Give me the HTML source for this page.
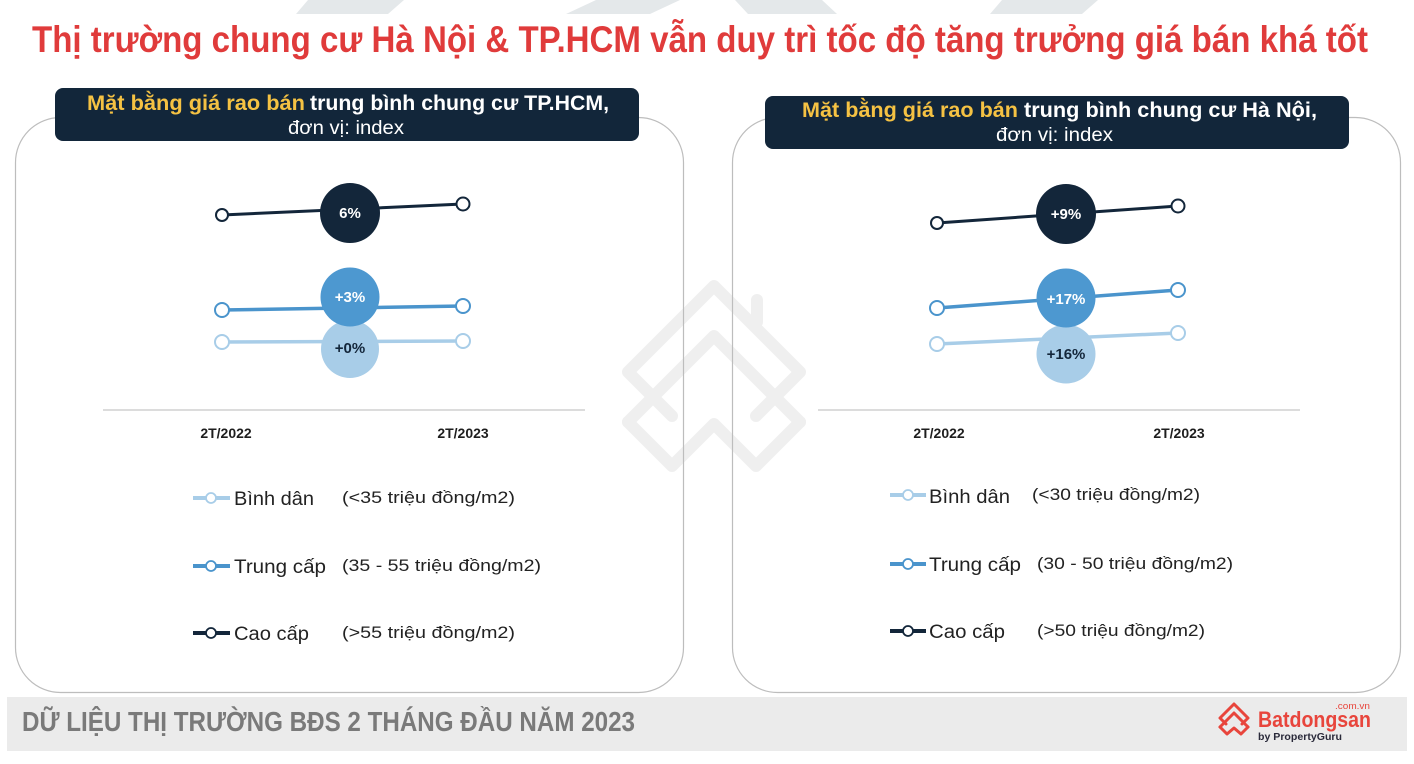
<!DOCTYPE html>
<html><head><meta charset="utf-8"><style>
html,body{margin:0;padding:0;background:#fff;}
svg{display:block;}
text{font-family:"Liberation Sans","DejaVu Sans",sans-serif;}
</style></head><body>
<svg width="1414" height="764" viewBox="0 0 1414 764" xmlns="http://www.w3.org/2000/svg">
<rect width="1414" height="764" fill="#fff"/>
<!-- top decorative stripes -->
<g fill="#e4e8ea">
<polygon points="296,14 388,14 404,0 308,0"/>
<polygon points="566,14 650,14 680,0 596,0"/>
<polygon points="748,14 837,14 822,0 735,0"/>
<polygon points="990,14 1082,14 1098,0 1002,0"/>
</g>
<!-- Title -->
<text x="32" y="52" font-size="37" font-weight="bold" fill="#e03b3b" textLength="1336" lengthAdjust="spacingAndGlyphs">Thị trường chung cư Hà Nội &amp; TP.HCM vẫn duy trì tốc độ tăng trưởng giá bán khá tốt</text>

<!-- watermark -->
<g fill="none" stroke="#efefef" stroke-width="12" stroke-linejoin="round" stroke-linecap="round">
<path d="M672,416 L628,372 L714,286 L800,372 L756,416"/>
<path d="M628,422 L714,336 L800,422"/>
<path d="M628,422 L672,466 L714,424 L756,466 L800,422"/>
<path d="M757,300 L757,322"/>
</g>

<!-- Panels -->
<rect x="15.5" y="117.5" width="668" height="575" rx="45" fill="none" stroke="#bdbdbd" stroke-width="1.2"/>
<rect x="732.5" y="117.5" width="668" height="575" rx="45" fill="none" stroke="#bdbdbd" stroke-width="1.2"/>

<!-- Left header -->
<rect x="55" y="88" width="584" height="53" rx="8" fill="#12263a"/>
<text x="87" y="110" font-size="21" font-weight="bold" fill="#f5c243" textLength="218" lengthAdjust="spacingAndGlyphs">Mặt bằng giá rao bán</text>
<text x="310" y="110" font-size="21" font-weight="bold" fill="#fff" textLength="299" lengthAdjust="spacingAndGlyphs">trung bình chung cư TP.HCM,</text>
<text x="288" y="134" font-size="19" fill="#fff" textLength="116" lengthAdjust="spacingAndGlyphs">đơn vị: index</text>

<!-- Right header -->
<rect x="765" y="96" width="584" height="53" rx="8" fill="#12263a"/>
<text x="802" y="117" font-size="21" font-weight="bold" fill="#f5c243" textLength="216" lengthAdjust="spacingAndGlyphs">Mặt bằng giá rao bán</text>
<text x="1024" y="117" font-size="21" font-weight="bold" fill="#fff" textLength="293" lengthAdjust="spacingAndGlyphs">trung bình chung cư Hà Nội,</text>
<text x="996" y="141" font-size="19" fill="#fff" textLength="117" lengthAdjust="spacingAndGlyphs">đơn vị: index</text>

<!-- Left chart -->
<line x1="103" y1="410" x2="585" y2="410" stroke="#dcdcdc" stroke-width="2"/>
<text x="226" y="438" font-size="14" font-weight="bold" fill="#1e1e1e" text-anchor="middle">2T/2022</text>
<text x="463" y="438" font-size="14" font-weight="bold" fill="#1e1e1e" text-anchor="middle">2T/2023</text>
<line x1="222" y1="215" x2="463" y2="204" stroke="#13263a" stroke-width="3"/>
<line x1="222" y1="310" x2="463" y2="306" stroke="#4a94cc" stroke-width="3.5"/>
<line x1="222" y1="342" x2="463" y2="341" stroke="#a8cde8" stroke-width="3.5"/>
<g fill="#fff" stroke-width="2">
<circle cx="222" cy="215" r="6" stroke="#13263a"/><circle cx="463" cy="204" r="6.5" stroke="#13263a"/>
<circle cx="222" cy="310" r="7" stroke="#4a94cc"/><circle cx="463" cy="306" r="7" stroke="#4a94cc"/>
<circle cx="222" cy="342" r="7" stroke="#a8cde8"/><circle cx="463" cy="341" r="7" stroke="#a8cde8"/>
</g>
<circle cx="350" cy="213" r="30" fill="#13263a"/>
<text x="350" y="218" font-size="15" font-weight="bold" fill="#fff" text-anchor="middle">6%</text>
<circle cx="350" cy="349" r="29" fill="#a8cde8"/>
<text x="350" y="353" font-size="15" font-weight="bold" fill="#13263a" text-anchor="middle">+0%</text>
<circle cx="350" cy="297" r="29.5" fill="#4d98d0"/>
<text x="350" y="302" font-size="15" font-weight="bold" fill="#fff" text-anchor="middle">+3%</text>

<!-- Right chart -->
<line x1="818" y1="410" x2="1300" y2="410" stroke="#dcdcdc" stroke-width="2"/>
<text x="939" y="438" font-size="14" font-weight="bold" fill="#1e1e1e" text-anchor="middle">2T/2022</text>
<text x="1179" y="438" font-size="14" font-weight="bold" fill="#1e1e1e" text-anchor="middle">2T/2023</text>
<line x1="937" y1="223" x2="1178" y2="206" stroke="#13263a" stroke-width="3"/>
<line x1="937" y1="308" x2="1178" y2="290" stroke="#4a94cc" stroke-width="3.5"/>
<line x1="937" y1="344" x2="1178" y2="333" stroke="#a8cde8" stroke-width="3.5"/>
<g fill="#fff" stroke-width="2">
<circle cx="937" cy="223" r="6" stroke="#13263a"/><circle cx="1178" cy="206" r="6.5" stroke="#13263a"/>
<circle cx="937" cy="308" r="7" stroke="#4a94cc"/><circle cx="1178" cy="290" r="7" stroke="#4a94cc"/>
<circle cx="937" cy="344" r="7" stroke="#a8cde8"/><circle cx="1178" cy="333" r="7" stroke="#a8cde8"/>
</g>
<circle cx="1066" cy="214" r="30" fill="#13263a"/>
<text x="1066" y="219" font-size="15" font-weight="bold" fill="#fff" text-anchor="middle">+9%</text>
<circle cx="1066" cy="354" r="29.5" fill="#a8cde8"/>
<text x="1066" y="359" font-size="15" font-weight="bold" fill="#13263a" text-anchor="middle">+16%</text>
<circle cx="1066" cy="298" r="29.5" fill="#4d98d0"/>
<text x="1066" y="304" font-size="15" font-weight="bold" fill="#fff" text-anchor="middle">+17%</text>

<!-- Legends -->
<g stroke-width="4">
<line x1="193" y1="498" x2="230" y2="498" stroke="#a8cde8"/>
<line x1="193" y1="566" x2="230" y2="566" stroke="#4a94cc"/>
<line x1="193" y1="633" x2="230" y2="633" stroke="#13263a"/>
<line x1="890" y1="495" x2="926" y2="495" stroke="#a8cde8"/>
<line x1="890" y1="564" x2="926" y2="564" stroke="#4a94cc"/>
<line x1="890" y1="631" x2="926" y2="631" stroke="#13263a"/>
</g>
<g fill="#fff" stroke-width="1.8">
<circle cx="211" cy="498" r="5" stroke="#a8cde8"/>
<circle cx="211" cy="566" r="5" stroke="#4a94cc"/>
<circle cx="211" cy="633" r="5" stroke="#13263a"/>
<circle cx="908" cy="495" r="5" stroke="#a8cde8"/>
<circle cx="908" cy="564" r="5" stroke="#4a94cc"/>
<circle cx="908" cy="631" r="5" stroke="#13263a"/>
</g>
<g fill="#222">
<text x="234" y="505" font-size="19" textLength="80" lengthAdjust="spacingAndGlyphs">Bình dân</text>
<text x="342" y="503" font-size="17" textLength="173" lengthAdjust="spacingAndGlyphs">(&lt;35 triệu đồng/m2)</text>
<text x="234" y="573" font-size="19" textLength="92" lengthAdjust="spacingAndGlyphs">Trung cấp</text>
<text x="342" y="571" font-size="17" textLength="199" lengthAdjust="spacingAndGlyphs">(35 - 55 triệu đồng/m2)</text>
<text x="234" y="640" font-size="19" textLength="75" lengthAdjust="spacingAndGlyphs">Cao cấp</text>
<text x="342" y="638" font-size="17" textLength="173" lengthAdjust="spacingAndGlyphs">(&gt;55 triệu đồng/m2)</text>

<text x="929" y="503" font-size="19" textLength="81" lengthAdjust="spacingAndGlyphs">Bình dân</text>
<text x="1032" y="500" font-size="17" textLength="168" lengthAdjust="spacingAndGlyphs">(&lt;30 triệu đồng/m2)</text>
<text x="929" y="571" font-size="19" textLength="92" lengthAdjust="spacingAndGlyphs">Trung cấp</text>
<text x="1037" y="569" font-size="17" textLength="196" lengthAdjust="spacingAndGlyphs">(30 - 50 triệu đồng/m2)</text>
<text x="929" y="638" font-size="19" textLength="76" lengthAdjust="spacingAndGlyphs">Cao cấp</text>
<text x="1037" y="636" font-size="17" textLength="168" lengthAdjust="spacingAndGlyphs">(&gt;50 triệu đồng/m2)</text>
</g>

<!-- Footer -->
<rect x="7" y="697" width="1400" height="54" fill="#ebebeb"/>
<text x="22" y="731" font-size="28" font-weight="bold" fill="#7a7a7a" textLength="613" lengthAdjust="spacingAndGlyphs">DỮ LIỆU THỊ TRƯỜNG BĐS 2 THÁNG ĐẦU NĂM 2023</text>

<!-- Logo -->
<g fill="none" stroke="#e8453c" stroke-width="3" stroke-linejoin="round" stroke-linecap="round">
<path d="M1226,724 L1220,718 L1234,704 L1248,718 L1242,724"/>
<path d="M1220,727 L1234,713 L1248,727"/>
<path d="M1220,727 L1227,734 L1234,728 L1241,734 L1248,727"/>
</g>
<text x="1258" y="727" font-size="22" font-weight="bold" fill="#e8453c" textLength="113" lengthAdjust="spacingAndGlyphs">Batdongsan</text>
<text x="1335" y="709" font-size="9" fill="#e8453c" textLength="35" lengthAdjust="spacingAndGlyphs">.com.vn</text>
<text x="1258" y="740" font-size="10" font-weight="bold" fill="#2a2a3a" textLength="84" lengthAdjust="spacingAndGlyphs">by PropertyGuru</text>
</svg>
</body></html>
